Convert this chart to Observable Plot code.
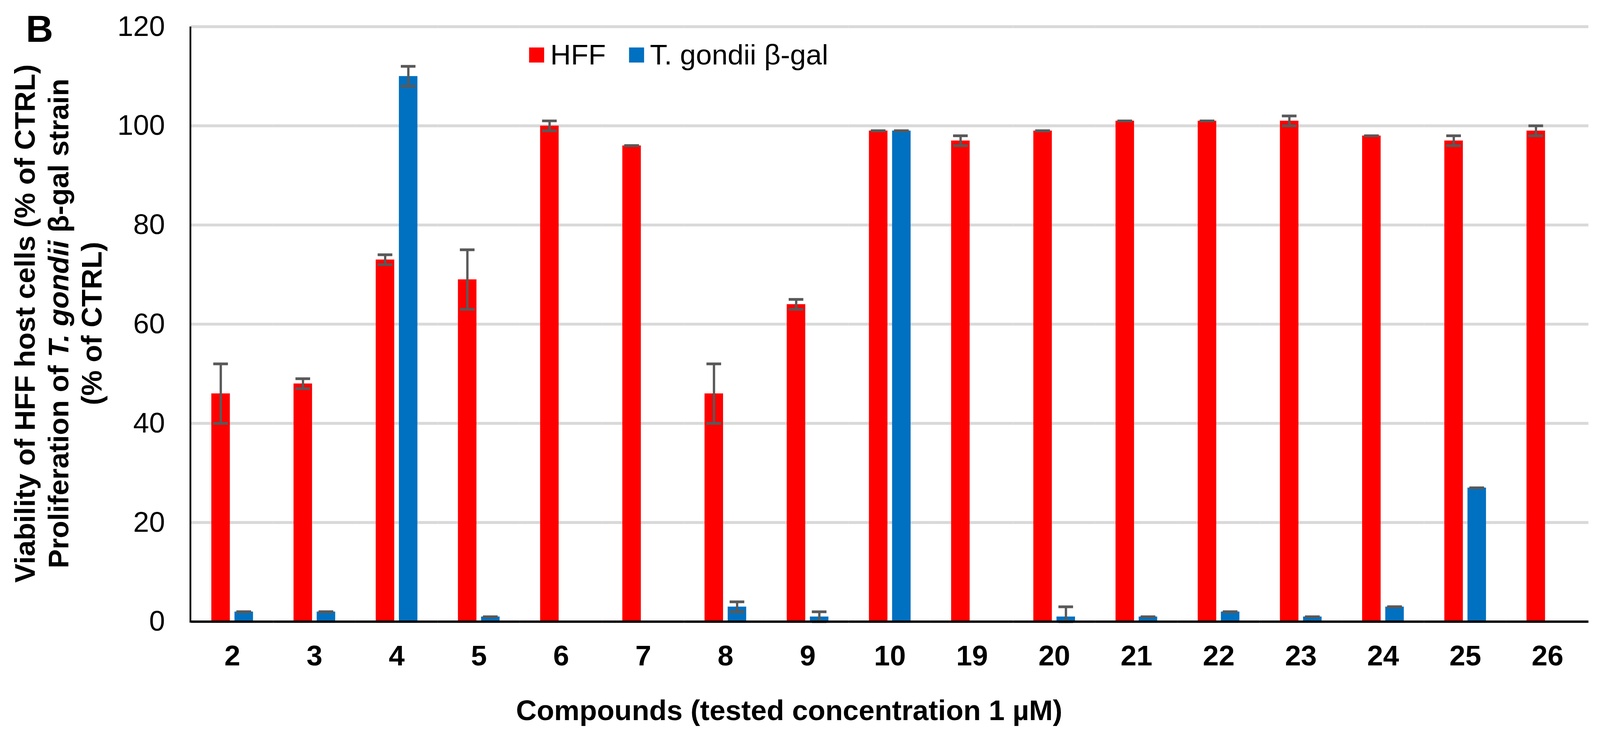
<!DOCTYPE html>
<html>
<head>
<meta charset="utf-8">
<script src="https://cdn.jsdelivr.net/npm/d3@7"></script>
<script src="https://cdn.jsdelivr.net/npm/@observablehq/plot@0.6"></script>
<style>
  html, body { margin: 0; padding: 0; background: #fff; overflow: hidden; }
  #chart svg { display: block; }
</style>
</head>
<body>
<div id="chart"></div>
<script>
// ---- data ----
const compounds = ["2","3","4","5","6","7","8","9","10","19","20","21","22","23","24","25","26"];
const series = ["HFF", "T. gondii β-gal"];
const hffValues = [46, 48, 73, 69, 100, 96, 46, 64, 99, 97, 99, 101, 101, 101, 98, 97, 99];
const hffErrors = [6, 1, 1, 6, 1, 0, 6, 1, 0, 1, 0, 0, 0, 1, 0, 1, 1];
const tgValues  = [2, 2, 110, 1, null, null, 3, 1, 99, null, 1, 1, 2, 1, 3, 27, null];
const tgErrors  = [0, 0, 2, 0, null, null, 1, 1, 0, null, 2, 0, 0, 0, 0, 0, null];
const yTicks = [0, 20, 40, 60, 80, 100, 120];

// long table for the library
const rows = [];
compounds.forEach((c, i) => {
  rows.push({compound: c, series: series[0], value: hffValues[i], err: hffErrors[i]});
  if (tgValues[i] != null) rows.push({compound: c, series: series[1], value: tgValues[i], err: tgErrors[i]});
});
const lo = d => Math.max(0, d.value - d.err);
const hi = d => d.value + d.err;

const FONT = "'Liberation Sans', Arial, Helvetica, sans-serif";
const ERR = "#595959";

const chart = Plot.plot({
  width: 4146,
  height: 1899,
  marginLeft: 493.4,
  marginRight: 28,
  marginTop: 68.6,
  marginBottom: 289,
  style: {fontFamily: FONT, background: "#fff", color: "#000", overflow: "visible"},
  fx: {domain: compounds, padding: 0, label: null},
  x: {domain: series, paddingInner: 0.197, paddingOuter: 0.846, axis: null},
  y: {domain: [0, 120], label: null},
  color: {domain: series, range: ["#FF0000", "#0070C0"]},
  marks: [
    Plot.ruleY(yTicks.filter(d => d > 0), {stroke: "#D9D9D9", strokeWidth: 7.5}),
    Plot.axisY({ticks: yTicks, tickSize: 0, tickPadding: 68, fontSize: 74, label: null, fill: "#000"}),
    Plot.axisFx({anchor: "bottom", tickSize: 0, tickPadding: 61, fontSize: 74, fontWeight: "bold", label: null, fill: "#000"}),
    Plot.barY(rows, {fx: "compound", x: "series", y: "value", fill: "series"}),
    Plot.ruleX(rows, {fx: "compound", x: "series", y1: lo, y2: hi, stroke: ERR, strokeWidth: 6}),
    Plot.tickY(rows, {fx: "compound", x: "series", y: hi, stroke: ERR, strokeWidth: 7, inset: 5}),
    Plot.tickY(rows, {fx: "compound", x: "series", y: lo, stroke: ERR, strokeWidth: 7, inset: 5}),
    Plot.ruleY([0], {stroke: "#000", strokeWidth: 6})
  ]
});

document.getElementById("chart").appendChild(chart);

// ---- axis line, titles, legend ----
const svg = d3.select(chart);
const y = chart.scale("y");
svg.append("line")
  .attr("x1", 493.4).attr("x2", 493.4)
  .attr("y1", y.apply(120)).attr("y2", y.apply(0) + 3)
  .attr("stroke", "#000").attr("stroke-width", 4.5);

const txt = svg.append("g").attr("font-family", FONT).attr("fill", "#000")
  .attr("text-anchor", "start");

// panel letter
txt.append("text").attr("x", 67).attr("y", 108)
  .attr("font-size", 98).attr("font-weight", "bold").text("B");

// x-axis title
txt.append("text").attr("x", 2045).attr("y", 1865)
  .attr("text-anchor", "middle").attr("font-size", 74).attr("font-weight", "bold")
  .text("Compounds (tested concentration 1 µM)");

// y-axis title (three rotated lines)
const yTitleX = [90, 177, 263];
const yt = (x) => txt.append("text")
  .attr("transform", `translate(${x},838) rotate(-90)`)
  .attr("text-anchor", "middle").attr("font-size", 74).attr("font-weight", "bold");
yt(yTitleX[0]).text("Viability of HFF host cells (% of CTRL)");
const l2 = yt(yTitleX[1]);
l2.append("tspan").text("Proliferation of ");
l2.append("tspan").attr("font-style", "italic").text("T. gondii");
l2.append("tspan").text(" β-gal strain");
yt(yTitleX[2]).text("(% of CTRL)");

// legend
const legendColors = ["#FF0000", "#0070C0"];
const legendBoxX = [1371, 1630];
const legendTextX = [1426, 1684];
series.forEach((s, i) => {
  txt.append("rect").attr("x", legendBoxX[i]).attr("y", 123)
    .attr("width", 39).attr("height", 39).attr("fill", legendColors[i]);
  txt.append("text").attr("x", legendTextX[i]).attr("y", 167)
    .attr("text-anchor", "start").attr("font-size", 74).text(s);
});
</script>
</body>
</html>
